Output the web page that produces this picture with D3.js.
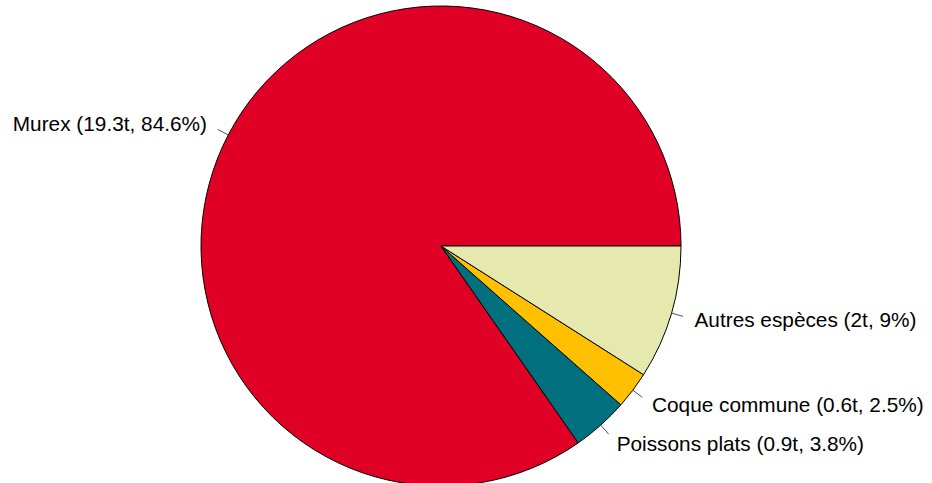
<!DOCTYPE html>
<html>
<head>
<meta charset="utf-8">
<script src="https://cdn.jsdelivr.net/npm/d3@7"></script>
<style>
  body { margin: 0; background: #fff; }
</style>
</head>
<body>
<div id="viz"></div>
<script>
// Données
const especes = ["Murex", "Poissons plats", "Coque commune", "Autres espèces"]
const tonnes = ["19.3", "0.9", "0.6", "2"]
const pourcents = [84.6, 3.8, 2.5, 9]
const couleurs = ["#E00025", "#00707F", "#FFC000", "#E6E9AD"]

const width = 932
const height = 483
const cx = 441, cy = 246, r = 240

const svg = d3.select("#viz").append("svg")
  .attr("width", width)
  .attr("height", height)

// pie façon R : départ à 3h, sens anti-horaire
const pie = d3.pie().sort(null).value(d => d)
  .startAngle(Math.PI / 2).endAngle(Math.PI / 2 - 2 * Math.PI)
const arcs = pie(pourcents)
const arc = d3.arc().innerRadius(0).outerRadius(r)

const g = svg.append("g").attr("transform", `translate(${cx},${cy})`)

g.selectAll("path")
  .data(arcs)
  .enter()
  .append("path")
  .attr("d", arc)
  .attr("fill", (d, i) => couleurs[i])
  .attr("stroke", "#000")
  .attr("stroke-width", 1)

// étiquettes
const mid = d => (d.startAngle + d.endAngle) / 2
const px = (a, k) => Math.sin(a) * r * k
const py = (a, k) => -Math.cos(a) * r * k

g.selectAll("line.tick")
  .data(arcs)
  .enter()
  .append("line")
  .attr("x1", d => px(mid(d), 1))
  .attr("y1", d => py(mid(d), 1))
  .attr("x2", d => px(mid(d), 1.05))
  .attr("y2", d => py(mid(d), 1.05))
  .attr("stroke", "#555")
  .attr("stroke-width", 1)

g.selectAll("text")
  .data(arcs)
  .enter()
  .append("text")
  .attr("x", d => px(mid(d), 1.1))
  .attr("y", d => py(mid(d), 1.1))
  .attr("dominant-baseline", "central")
  .attr("text-anchor", d => px(mid(d), 1) < 0 ? "end" : "start")
  .style("font-family", "Liberation Sans, Arial, sans-serif")
  .style("font-size", "20.8px")
  .attr("fill", "#000")
  .text((d, i) => `${especes[i]} (${tonnes[i]}t, ${pourcents[i]}%)`)
</script>
</body>
</html>
